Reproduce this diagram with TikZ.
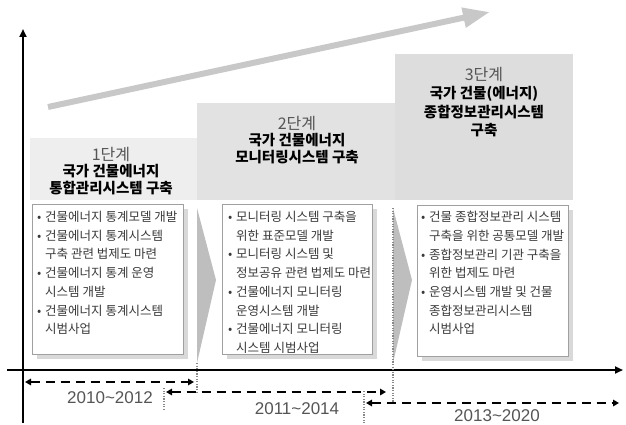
\documentclass[tikz,border=0pt]{standalone}
\usepackage{fontspec}
\setmainfont{Noto Sans CJK KR}
\newfontfamily\yearfont{Liberation Sans}
\usetikzlibrary{arrows.meta}
\definecolor{hOne}{HTML}{EEEEEE}
\definecolor{hTwo}{HTML}{E2E2E2}
\definecolor{hThree}{HTML}{DDDDDD}
\definecolor{boxline}{HTML}{A0A0A0}
\definecolor{shadowc}{HTML}{D9D9D9}
\definecolor{chev}{HTML}{BEBEBE}
\definecolor{bigarrow}{HTML}{C8C8C8}
\definecolor{dotc}{HTML}{888888}
\definecolor{bodytext}{HTML}{3A3A3A}
\definecolor{stagegray}{HTML}{555555}
\newcommand\bul{\makebox[8pt][l]{•}}
\newcommand\ind{\hspace*{8pt}}
\begin{document}
\begin{tikzpicture}[x=1pt,y=-1pt,
  axisline/.style={line width=2.3pt, -{Triangle[length=8pt,width=7pt]}},
  period/.style={line width=2pt, dash pattern=on 9pt off 6pt,
     {Triangle[length=6pt,width=6.5pt]}-{Triangle[length=6pt,width=6.5pt]}},
  guide/.style={dotc, line width=1.2pt, dash pattern=on 1.2pt off 1.4pt},
  contentbox/.style={draw=boxline, line width=0.8pt, fill=white},
  bodytxt/.style={anchor=north west, inner sep=0pt, align=left, text=bodytext,
     font=\fontsize{12.5}{18.7}\selectfont},
  stagetxt/.style={align=center, inner sep=0pt, font=\fontsize{14.5}{16.5}\selectfont\bfseries},
  yeartxt/.style={text=stagegray, font=\yearfont\fontsize{17}{17}\selectfont, inner sep=0pt},
  chevron/.style={fill=chev, draw=none}
]
\useasboundingbox (0,0) rectangle (626,425);

% big gray trend arrow
\coordinate (ga) at (48,107);
\coordinate (gb) at (490,12);
\draw[bigarrow, line width=6pt, -{Triangle[length=27pt,width=19pt]}] (ga) -- (gb);

% header backgrounds
\fill[hOne] (30,138) rectangle (197,200);
\fill[hTwo] (197,103) rectangle (395,200);
\fill[hThree] (395,54) rectangle (573,200);

% header texts
\node[stagetxt] (s1) at (111,171) {{\mdseries\color{stagegray}\fontsize{16}{17}\selectfont 1단계}\\국가 건물에너지\\통합관리시스템 구축};
\node[stagetxt] (s2) at (297,140) {{\mdseries\color{stagegray}\fontsize{16}{17}\selectfont 2단계}\\국가 건물에너지\\모니터링시스템 구축};
\node[stagetxt, font=\fontsize{14.5}{18.3}\selectfont\bfseries] (s3) at (484,102) {{\mdseries\color{stagegray}\fontsize{16}{17}\selectfont 3단계}\\국가 건물(에너지)\\종합정보관리시스템\\구축};

% chevrons
\fill[chevron] (197,208) -- (216,280) -- (197,363) -- cycle;
\fill[chevron] (393,208) -- (412,280) -- (393,363) -- cycle;

% content boxes with shadows
\fill[shadowc] (37,209) rectangle (188,359);
\draw[contentbox] (32,204) rectangle (183,354);
\fill[shadowc] (227,209) rectangle (377,359);
\draw[contentbox] (222,204) rectangle (372,354);
\fill[shadowc] (422,210) rectangle (573,361);
\draw[contentbox] (417,205) rectangle (568,356);

\node[bodytxt] (b1) at (37,211) {\bul 건물에너지 통계모델 개발\\\bul 건물에너지 통계시스템\\\ind 구축 관련 법제도 마련\\\bul 건물에너지 통계 운영\\\ind 시스템 개발\\\bul 건물에너지 통계시스템\\\ind 시범사업};
\node[bodytxt] (b2) at (228,211) {\bul 모니터링 시스템 구축을\\\ind 위한 표준모델 개발\\\bul 모니터링 시스템 및\\\ind 정보공유 관련 법제도 마련\\\bul 건물에너지 모니터링\\\ind 운영시스템 개발\\\bul 건물에너지 모니터링\\\ind 시스템 시범사업};
\node[bodytxt] (b3) at (421,211) {\bul 건물 종합정보관리 시스템\\\ind 구축을 위한 공통모델 개발\\\bul 종합정보관리 기관 구축을\\\ind 위한 법제도 마련\\\bul 운영시스템 개발 및 건물\\\ind 종합정보관리시스템\\\ind 시범사업};

% axes
\coordinate (vbot) at (23,423);
\coordinate (vtop) at (23,29);
\coordinate (hl) at (7,370);
\coordinate (hr) at (623,370);
\draw[axisline] (vbot) -- (vtop);
\draw[axisline, line width=2.5pt] (hl) -- (hr);

% dotted guide lines
\coordinate (d1a) at (197,363); \coordinate (d1b) at (197,392);
\coordinate (d2a) at (164,388); \coordinate (d2b) at (164,411);
\coordinate (d3a) at (393,208); \coordinate (d3b) at (393,403);
\coordinate (d4a) at (364,391); \coordinate (d4b) at (364,425);
\draw[guide] (d1a) -- (d1b);
\draw[guide] (d2a) -- (d2b);
\draw[guide] (d3a) -- (d3b);
\draw[guide] (d4a) -- (d4b);

% period arrows
\coordinate (p1a) at (25,382); \coordinate (p1b) at (194,382);
\coordinate (p2a) at (166,392); \coordinate (p2b) at (386,392);
\coordinate (p3a) at (366,403); \coordinate (p3b) at (619,403);
\draw[period] (p1a) -- (p1b);
\draw[period] (p2a) -- (p2b);
\draw[period] (p3a) -- (p3b);

\node[yeartxt] (y1) at (110,398) {2010\char`\~2012};
\node[yeartxt] (y2) at (297,409) {2011\char`\~2014};
\node[yeartxt] (y3) at (497,416) {2013\char`\~2020};
\end{tikzpicture}
\end{document}
